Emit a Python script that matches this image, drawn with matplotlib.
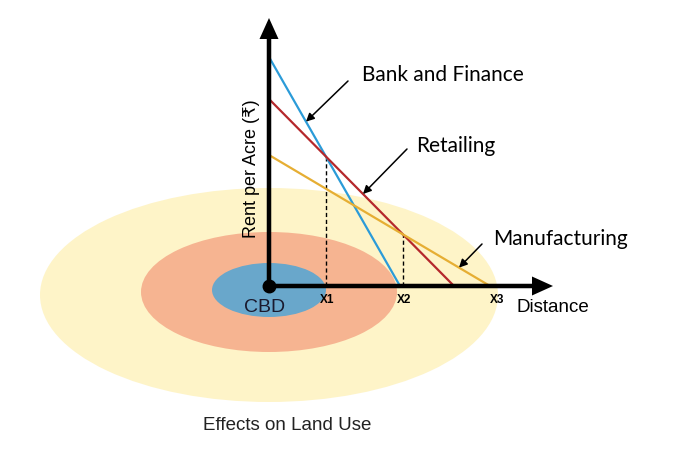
import numpy as np
import matplotlib.pyplot as plt
from matplotlib.patches import Ellipse

# bid-rent lines: rent at the CBD and distance where rent falls to zero
uses = ["Bank and Finance", "Retailing", "Manufacturing"]
rent_at_cbd = [229, 187, 131]
max_distance = [131, 185, 221]
line_colors = ["#2B9BD8", "#B5282C", "#E6AE33"]

# land use rings round the CBD (width, height, centre offset)
ring_width = [458, 256, 114]
ring_height = [214, 120, 54]
ring_offset = [-9, -6, -4]
ring_colors = ["#FEF4C8", "#F6B491", "#69A7CB"]

tick_labels = ["X1", "X2", "X3"]

sans = ["Liberation Sans", "DejaVu Sans"]
label_font = ["Lato", "DejaVu Sans"]


def rent(i, d):
    return rent_at_cbd[i] * (1 - d / max_distance[i])


def crossing(i, j):
    si = rent_at_cbd[i] / max_distance[i]
    sj = rent_at_cbd[j] / max_distance[j]
    return (rent_at_cbd[i] - rent_at_cbd[j]) / (si - sj)


fig = plt.figure(figsize=(7, 4.55), dpi=100)
ax = fig.add_axes([0, 0, 1, 1])
ax.set_xlim(-269, 431)
ax.set_ylim(-169, 286)
ax.axis("off")

# rings
for w, h, off, c in zip(ring_width, ring_height, ring_offset, ring_colors):
    ax.add_patch(Ellipse((0, off), w, h, color=c, lw=0, zorder=1))

# rent lines
for i in range(3):
    ax.plot([0, max_distance[i]], [rent_at_cbd[i], 0], color=line_colors[i], lw=1.6, zorder=3)

# dashed drops at the crossings
x1 = crossing(0, 1)
x2 = crossing(1, 2)
for d, i in [(x1, 1), (x2, 1)]:
    ax.plot([d, d], [0, rent(i, d)], color="black", lw=1, ls=(0, (3, 2)), zorder=2)

# axes with arrows
ax.arrow(0, 0, 0, 268, width=4.5, head_width=19, head_length=21,
         length_includes_head=True, fc="black", ec="none", zorder=5)
ax.arrow(0, 0, 284, 0, width=4.5, head_width=19, head_length=21,
         length_includes_head=True, fc="black", ec="none", zorder=5)
ax.plot(0, 0, "o", color="black", ms=9, zorder=6)

# tick labels
tick_pos = [x1, x2, 227]
for d, t in zip(tick_pos, tick_labels):
    ax.text(d + 1, -14, t, fontsize=8.5, fontweight="bold", family=sans,
            ha="center", va="center", zorder=6)

ax.text(-4, -22, "CBD", fontsize=14, family=sans, ha="center", va="center", color="#1a1a2e", zorder=6)
ax.text(248, -22, "Distance", fontsize=13.5, family=sans, ha="left", va="center", zorder=6)
ax.text(-17, 117, "Rent per Acre (₹)", fontsize=13, family=sans, rotation=90,
        ha="center", va="center", zorder=6)
ax.text(18, -140, "Effects on Land Use", fontsize=13.5, family=sans,
        ha="center", va="center", color="#222222")

# callouts
arrow_at = [37, 94, 190]
tails = [(79, 205), (138, 137), (213, 42)]
texts = [(93, 211), (147, 140), (224, 47)]
for i in range(3):
    d = arrow_at[i]
    ax.annotate("", xy=(d, rent(i, d)), xytext=tails[i],
                arrowprops=dict(arrowstyle="-|>", color="black", lw=1.1,
                                mutation_scale=12, shrinkA=0, shrinkB=0),
                zorder=7)
    ax.text(texts[i][0], texts[i][1], uses[i], fontsize=15, family=label_font,
            ha="left", va="center", zorder=7)

fig.savefig("out.png", dpi=100)
